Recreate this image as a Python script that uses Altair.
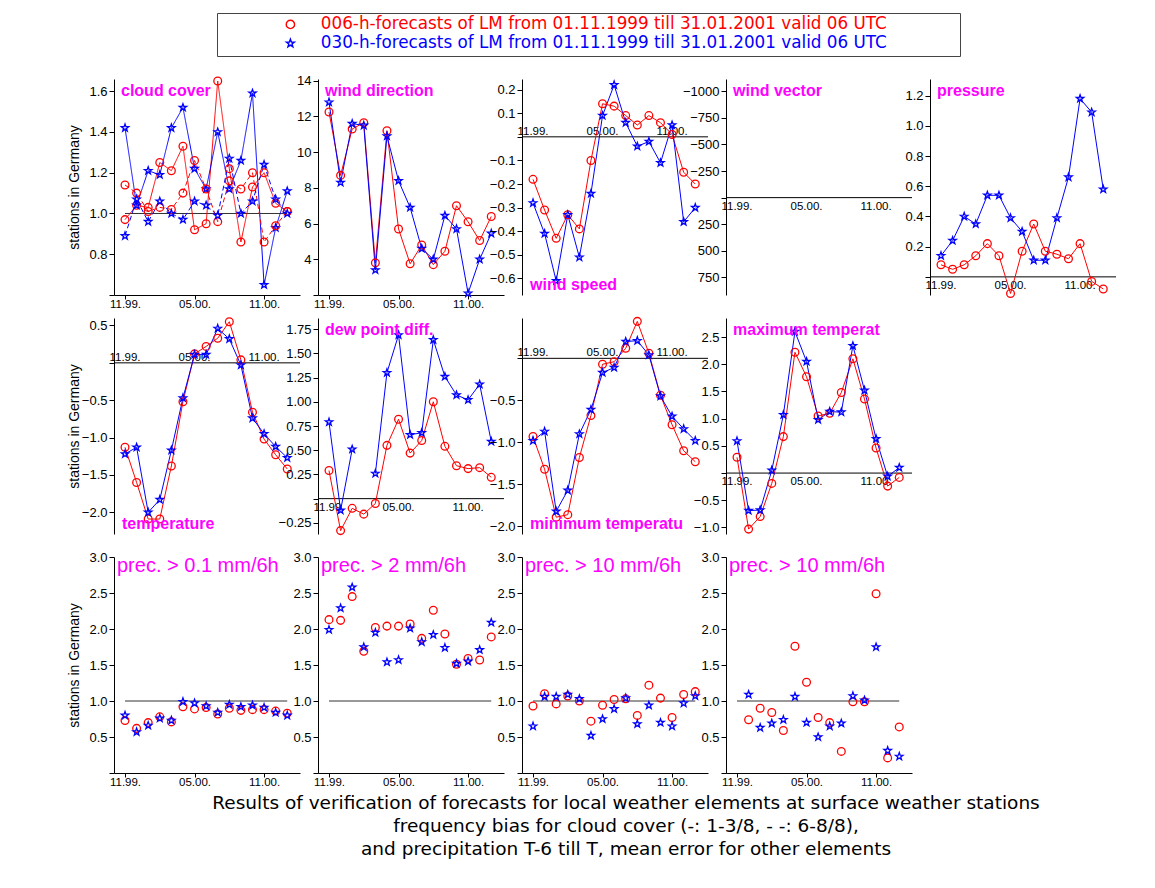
import altair as alt
import pandas as pd

# ---------------- data ----------------
months = list(range(15))
tick_pos = [0, 6, 12]
tick_labels = ["11.99.", "05.00.", "11.00."]
series = [
    "006-h-forecasts of LM from 01.11.1999 till 31.01.2001 valid 06 UTC",
    "030-h-forecasts of LM from 01.11.1999 till 31.01.2001 valid 06 UTC",
]
cc_cats = ["1-3/8", "6-8/8"]

cc_red_a = [0.97, 1.04, 1.03, 1.25, 1.21, 1.33, 0.92, 0.95, 1.65, 1.22, 0.86, 1.13, 1.20, 1.05, 1.01]
cc_red_b = [1.14, 1.10, 1.01, 1.03, 1.02, 1.10, 1.26, 1.12, 0.96, 1.16, 1.12, 1.20, 0.86, 0.94, 1.01]
cc_blue_a = [1.42, 1.04, 1.21, 1.19, 1.42, 1.52, 1.22, 1.12, 1.40, 1.12, 1.26, 1.59, 0.65, 0.93, 1.11]
cc_blue_b = [0.89, 1.07, 0.96, 1.06, 1.00, 0.97, 1.06, 1.04, 0.99, 1.27, 1.00, 1.06, 1.24, 1.07, 1.00]

wd_red = [12.25, 8.7, 11.3, 11.65, 3.8, 11.2, 5.7, 3.75, 4.8, 3.7, 4.45, 7.0, 6.1, 5.05, 6.4]
wd_blue = [12.8, 8.3, 11.6, 11.5, 3.4, 10.9, 8.4, 6.9, 4.6, 4.0, 6.45, 5.7, 2.1, 4.0, 5.45]

ws_red = [-0.18, -0.31, -0.43, -0.33, -0.39, -0.10, 0.14, 0.13, 0.09, 0.05, 0.09, 0.06, 0.01, -0.15, -0.20]
ws_blue = [-0.28, -0.41, -0.61, -0.33, -0.51, -0.24, 0.09, 0.22, 0.06, -0.04, -0.02, -0.11, 0.05, -0.36, -0.30]

pr_red = [0.08, 0.05, 0.08, 0.14, 0.22, 0.14, -0.11, 0.17, 0.35, 0.17, 0.15, 0.12, 0.22, -0.03, -0.08]
pr_blue = [0.14, 0.24, 0.40, 0.35, 0.54, 0.54, 0.39, 0.30, 0.11, 0.11, 0.39, 0.66, 1.18, 1.09, 0.58]

t_red = [-1.13, -1.60, -2.09, -2.09, -1.38, -0.52, 0.12, 0.22, 0.33, 0.55, 0.04, -0.66, -1.02, -1.23, -1.42]
t_blue = [-1.22, -1.13, -2.00, -1.83, -1.17, -0.47, 0.11, 0.11, 0.46, 0.32, -0.03, -0.74, -0.95, -1.12, -1.27]

dp_red = [0.29, -0.33, -0.10, -0.16, -0.05, 0.55, 0.82, 0.47, 0.60, 1.00, 0.54, 0.34, 0.31, 0.32, 0.22]
dp_blue = [0.79, -0.12, 0.51, None, 0.26, 1.30, 1.69, 0.66, 0.68, 1.64, 1.26, 1.07, 1.02, 1.18, 0.59]

tn_red = [-0.93, -1.32, -1.89, -1.86, -1.18, -0.68, -0.07, -0.04, 0.12, 0.44, 0.06, -0.44, -0.79, -1.10, -1.23]
tn_blue = [-0.98, -0.87, -1.82, -1.57, -0.90, -0.61, -0.17, -0.11, 0.20, 0.21, 0.04, -0.45, -0.69, -0.84, -0.98]

tx_red = [0.29, -1.03, -0.80, -0.19, 0.67, 2.22, 1.77, 1.05, 1.10, 1.48, 2.10, 1.36, 0.46, -0.24, -0.08]
tx_blue = [0.59, -0.69, -0.68, 0.05, 1.07, 2.60, 2.05, 0.98, 1.13, 1.12, 2.34, 1.52, 0.63, -0.06, 0.10]

p01_red = [0.73, 0.62, 0.70, 0.78, 0.71, 0.92, 0.89, 0.91, 0.82, 0.90, 0.87, 0.88, 0.88, 0.86, 0.83]
p01_blue = [0.80, 0.57, 0.66, 0.76, 0.73, 0.99, 0.97, 0.93, 0.84, 0.95, 0.92, 0.94, 0.91, 0.84, 0.80]

p2_red = [2.13, 2.12, 2.45, 1.69, 2.02, 2.04, 2.04, 2.07, 1.87, 2.26, 1.93, 1.51, 1.59, 1.57, 1.89]
p2_blue = [1.99, 2.29, 2.58, 1.75, 1.95, 1.54, 1.57, 2.01, 1.82, 1.92, 1.74, 1.52, 1.55, 1.71, 2.09]

p10a_red = [0.93, 1.10, 0.96, 1.07, 1.00, 0.72, 0.94, 1.02, 1.03, 0.80, 1.22, 1.04, 0.77, 1.09, 1.13]
p10a_blue = [0.65, 1.06, 1.06, 1.09, 1.03, 0.52, 0.75, 0.89, 1.04, 0.68, 0.94, 0.70, 0.65, 0.97, 1.07]

p10b_red = [None, 0.74, 0.90, 0.84, 0.59, 1.76, 1.26, 0.77, 0.70, 0.30, 0.99, 0.99, 2.49, 0.21, 0.64]
p10b_blue = [None, 1.09, 0.63, 0.69, 0.74, 1.06, 0.70, 0.50, 0.65, 0.69, 1.07, 1.01, 1.75, 0.31, 0.23]

bottom_title = [
    "Results of verification of forecasts for local weather elements at surface weather stations",
    "frequency bias for cloud cover (-: 1-3/8, - -: 6-8/8),",
    "and precipitation T-6 till T, mean error for other elements",
]

# ---------------- styling ----------------
RED = "#ff0000"
BLUE = "#0000ff"
MAG = "#ff00ff"
STAR = ("M0,-1L0.235,-0.324L0.951,-0.309L0.38,0.124L0.588,0.809L0,0.4"
        "L-0.588,0.809L-0.38,0.124L-0.951,-0.309L-0.235,-0.324Z")
W, H = 186, 216
XDOM = [-0.95, 15.1]

color_enc = alt.Color("s:N", scale=alt.Scale(domain=series, range=[RED, BLUE]),
                      legend=alt.Legend(orient="none", legendX=103, legendY=-66,
                                        direction="vertical", title="\u00a0",
                                        titleOrient="right", titlePadding=70,
                                        strokeColor="#444", padding=3,
                                        labelFont="DejaVu Sans", labelFontSize=16.8,
                                        labelLimit=800, symbolSize=70,
                                        symbolStrokeWidth=1.4, symbolOffset=62,
                                        labelOffset=22, rowPadding=1,
                                        labelColor=alt.ExprRef(expr="indexof(datum.value, '006') == 0 ? '#ff0000' : '#0000ff'")))
shape_enc = alt.Shape("s:N", scale=alt.Scale(domain=series, range=["circle", STAR]))


def to_long(red, blue, cat="-"):
    rows = []
    for s, vals in ((series[0], red), (series[1], blue)):
        seg = 0
        for m, v in zip(months, vals):
            if v is None:
                seg += 1
                continue
            rows.append({"m": m, "v": v, "s": s, "c": cat, "seg": f"{s[:3]}{cat}{seg}"})
    return rows


def panel(name, rows, ydom, yticks, yfmt, hide, first=False, reverse=False,
          title_at="top", xaxis="bottom", lines=True, rule1=False, dash=False,
          row=1, tdy=24):
    df = pd.DataFrame(rows)
    lab = f"abs(datum.value - ({hide})) < 1e-9 ? '' : format(datum.value, '{yfmt}')"
    yax = alt.Axis(values=yticks, labelExpr=lab,
                   title="stations in Germany" if first else None)
    xax = (alt.Axis(values=tick_pos, title=None,
                    labelExpr="['" + "','".join(tick_labels) + "'][datum.value / 6]")
           if xaxis == "bottom" else None)
    X = alt.X("m:Q", scale=alt.Scale(domain=XDOM, nice=False, zero=False), axis=xax)
    Y = alt.Y("v:Q", scale=alt.Scale(domain=ydom, nice=False, zero=False, reverse=reverse), axis=yax)
    layers = []
    if rule1:
        rdf = pd.DataFrame({"m": [0], "m2": [14], "v": [1.0]})
        layers.append(alt.Chart(rdf).mark_rule(color="#333", strokeWidth=1)
                      .encode(x=X, x2="m2:Q", y=Y))
    if xaxis != "bottom":
        zdf = pd.DataFrame({"v": [0.0]})
        layers.append(alt.Chart(zdf).mark_rule(color="black", strokeWidth=1).encode(y=Y))
        tdf = pd.DataFrame({"m": tick_pos, "v": [0.0] * 3, "t": tick_labels})
        if xaxis == "above":
            tm = alt.Chart(tdf).mark_text(baseline="alphabetic", dy=-2, fontSize=11.5,
                                          font="Liberation Sans", color="black")
        else:
            tm = alt.Chart(tdf).mark_text(baseline="top", dy=3, fontSize=11.5,
                                          font="Liberation Sans", color="black")
        layers.append(tm.encode(x=X, y=Y, text="t:N"))
    if len(df):
        base = alt.Chart(df)
        if lines:
            enc = dict(x=X, y=Y, color=color_enc, detail="seg:N")
            if dash:
                enc["strokeDash"] = alt.StrokeDash(
                    "c:N", scale=alt.Scale(domain=cc_cats, range=[[1, 0], [5, 3]]), legend=None)
            layers.append(base.mark_line(strokeWidth=1).encode(**enc))
        layers.append(base.mark_point(filled=False, size=60, strokeWidth=1.3, opacity=1)
                      .encode(x=X, y=Y, color=color_enc, shape=shape_enc))
    if title_at == "top":
        tp = alt.TitleParams(text=name, orient="top", anchor="start", frame="group",
                             offset=0, baseline="top", dx=3 if row == 3 else 7,
                             dy=tdy, color=MAG,
                             fontSize=20 if row == 3 else 16,
                             fontWeight="normal" if row == 3 else "bold",
                             font="Liberation Sans")
    else:
        tp = alt.TitleParams(text=name, orient="bottom", anchor="start", frame="group",
                             offset=0, baseline="bottom", dx=8, dy=-2, color=MAG,
                             fontSize=16, fontWeight="bold", font="Liberation Sans")
    return alt.layer(*layers).properties(width=W, height=H, title=tp)


def filler():
    return (alt.Chart(pd.DataFrame({"m": [0], "v": [0]})).mark_point(opacity=0)
            .encode(x=alt.X("m:Q", axis=None), y=alt.Y("v:Q", axis=None))
            .properties(width=W, height=H))


cc_rows = (to_long(cc_red_a, cc_blue_a, cc_cats[0]) + to_long(cc_red_b, cc_blue_b, cc_cats[1]))
pticks = [0.0, 0.5, 1.0, 1.5, 2.0, 2.5, 3.0]

panels = [
    panel("cloud  cover", cc_rows, [0.6, 1.66], [0.6, 0.8, 1.0, 1.2, 1.4, 1.6], ".1f", 0.6,
          first=True, rule1=True, dash=True, tdy=24),
    panel("wind  direction", to_long(wd_red, wd_blue), [2, 14.1], [2, 4, 6, 8, 10, 12, 14], "d", 2,
          tdy=24),
    panel("wind  speed", to_long(ws_red, ws_blue), [-0.67, 0.245],
          [-0.6, -0.5, -0.4, -0.3, -0.2, -0.1, 0.0, 0.1, 0.2], ".1f", 0,
          title_at="bottom", xaxis="above"),
    panel("wind  vector", [], [-1115, 915], [-1000, -750, -500, -250, 0, 250, 500, 750], "d", 0,
          reverse=True, xaxis="below", tdy=20),
    panel("pressure", to_long(pr_red, pr_blue), [-0.12, 1.31],
          [0.0, 0.2, 0.4, 0.6, 0.8, 1.0, 1.2], ".1f", 0, xaxis="below", tdy=20),
    panel("temperature", to_long(t_red, t_blue), [-2.29, 0.6],
          [-2.0, -1.5, -1.0, -0.5, 0.0, 0.5], ".1f", 0, first=True,
          title_at="bottom", xaxis="above", row=2),
    panel("dew  point  diff.", to_long(dp_red, dp_blue), [-0.365, 1.865],
          [-0.25, 0.0, 0.25, 0.5, 0.75, 1.0, 1.25, 1.5, 1.75], ".2f", 0, xaxis="below", row=2,
          tdy=20),
    panel("minimum  temperatu", to_long(tn_red, tn_blue), [-2.09, 0.48],
          [-2.0, -1.5, -1.0, -0.5, 0.0], ".1f", 0, title_at="bottom", xaxis="above", row=2),
    panel("maximum  temperat", to_long(tx_red, tx_blue), [-1.12, 2.85],
          [-1.0, -0.5, 0.0, 0.5, 1.0, 1.5, 2.0, 2.5], ".1f", 0, xaxis="below", row=2, tdy=20),
    filler(),
    panel("prec.  >  0.1  mm/6h", to_long(p01_red, p01_blue), [0, 3.0], pticks, ".1f", 0,
          first=True, lines=False, rule1=True, row=3, tdy=25),
    panel("prec.  >  2  mm/6h", to_long(p2_red, p2_blue), [0, 3.0], pticks, ".1f", 0,
          lines=False, rule1=True, row=3, tdy=25),
    panel("prec.  >  10  mm/6h", to_long(p10a_red, p10a_blue), [0, 3.0], pticks, ".1f", 0,
          lines=False, rule1=True, row=3, tdy=25),
    panel("prec.  >  10  mm/6h", to_long(p10b_red, p10b_blue), [0, 3.0], pticks, ".1f", 0,
          lines=False, rule1=True, row=3, tdy=25),
]

chart = (
    alt.concat(*panels, columns=5, spacing={"row": 23, "column": 18}, bounds="flush")
    .properties(
        padding={"left": 58, "top": 4, "right": 10, "bottom": 10},
        title=alt.TitleParams(text=bottom_title, orient="bottom", anchor="middle",
                              frame="group", offset=6, dx=512, fontSize=18.5,
                              fontWeight="normal", font="DejaVu Sans",
                              lineHeight=23, color="black"),
    )
    .configure_view(stroke="transparent")
    .configure_axis(grid=False, labelFont="Liberation Sans", labelFontSize=13,
                    labelColor="black", domainColor="black", tickColor="black",
                    titleFont="Liberation Sans", titleFontSize=14, titleFontWeight="normal",
                    titleColor="black", labelFlush=False, labelOverlap=False)
    .configure_axisY(tickSize=5, labelPadding=2, minExtent=30, maxExtent=30, titlePadding=3)
    .configure_axisX(tickSize=4, labelPadding=-1, labelFontSize=11.5)
)

chart.save("out.html", embed_options={"renderer": "svg", "actions": False})
